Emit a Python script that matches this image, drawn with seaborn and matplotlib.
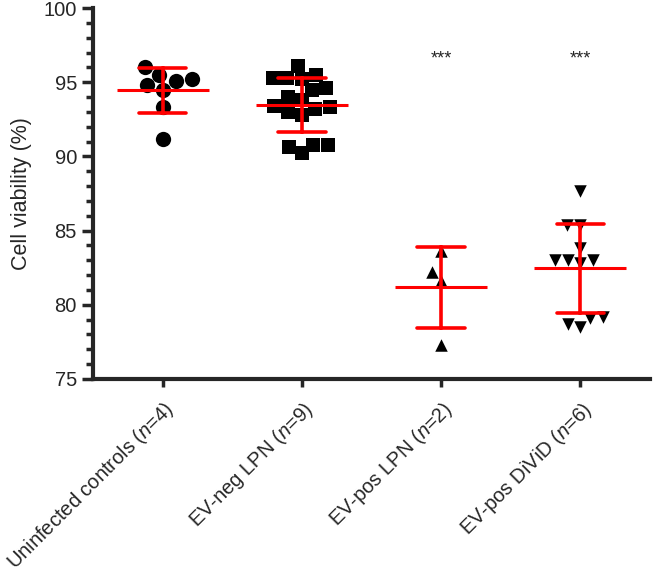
import matplotlib
matplotlib.use("Agg")
import pandas as pd
import matplotlib.pyplot as plt
import matplotlib.ticker as mtick
import seaborn as sns

# ================================
# DATA
# ================================
groups = [
    "Uninfected controls ($n$=4)",
    "EV-neg LPN ($n$=9)",
    "EV-pos LPN ($n$=2)",
    "EV-pos DiViD ($n$=6)",
]
controls = [95.1, 95.5, 94.5, 96.0, 94.8, 95.2, 93.3, 91.2]
ev_neg_lpn = [96.1, 95.3, 95.3, 95.5, 95.2, 94.5, 94.6, 93.8, 94.0,
              93.0, 93.2, 93.3, 92.8, 93.4, 90.8, 90.2, 90.8, 90.6]
ev_pos_lpn = [83.6, 82.2, 81.6, 77.3]
ev_pos_divid = [87.7, 85.4, 85.4, 83.8, 82.8, 83.0, 83.0, 83.0,
                79.2, 78.7, 79.1, 78.5]
signif = ["", "", "***", "***"]

values = [controls, ev_neg_lpn, ev_pos_lpn, ev_pos_divid]
df = pd.DataFrame({
    "group": [g for g, v in zip(groups, values) for _ in v],
    "viability": [x for v in values for x in v],
})

# ================================
# STYLE
# ================================
sns.set_style("ticks")
plt.rcParams["font.family"] = ["Liberation Sans", "DejaVu Sans"]
plt.rcParams["mathtext.fontset"] = "custom"
plt.rcParams["mathtext.it"] = "Liberation Sans:italic"
plt.rcParams["mathtext.rm"] = "Liberation Sans"

fig = plt.figure(figsize=(6.54, 5.75), dpi=100)
ax = fig.add_axes([0.142, 0.341, 0.852, 0.645])

# ================================
# POINTS
# ================================
markers = ["o", "s", "^", "v"]
sizes = [11, 10, 9, 9]
for g, m, s in zip(groups, markers, sizes):
    sns.swarmplot(data=df[df["group"] == g], x="group", y="viability",
                  order=groups, marker=m, size=s, color="black",
                  linewidth=0, ax=ax, zorder=2)

# ================================
# MEAN +/- SD
# ================================
sns.pointplot(data=df, x="group", y="viability", order=groups,
              errorbar="sd", capsize=0.34, color="#ff0000",
              linestyle="none", marker="_", markersize=66,
              markeredgewidth=2.2, err_kws={"linewidth": 2.6},
              ax=ax, zorder=5)

for i, s in enumerate(signif):
    if s:
        ax.text(i, 96.0, s, ha="center", va="bottom", fontsize=13)

# ================================
# AXES
# ================================
ax.set_ylim(75, 100)
ax.set_xlim(-0.5, 3.5)
ax.yaxis.set_major_locator(mtick.MultipleLocator(5))
ax.yaxis.set_minor_locator(mtick.MultipleLocator(1))
ax.set_ylabel("Cell viability (%)", fontsize=15.5, labelpad=8)
ax.set_xlabel("")
ax.set_xticks(range(len(groups)))
ax.set_xticklabels(groups, rotation=45, ha="right", rotation_mode="anchor",
                   fontsize=14.5)
ax.tick_params(axis="y", which="major", length=8, width=2.5, labelsize=14.5)
ax.tick_params(axis="y", which="minor", length=5, width=2.5)
ax.tick_params(axis="x", length=6, width=2.5, pad=8)
sns.despine(ax=ax)
for side in ["left", "bottom"]:
    ax.spines[side].set_linewidth(3)

fig.savefig("out.png", dpi=100)
